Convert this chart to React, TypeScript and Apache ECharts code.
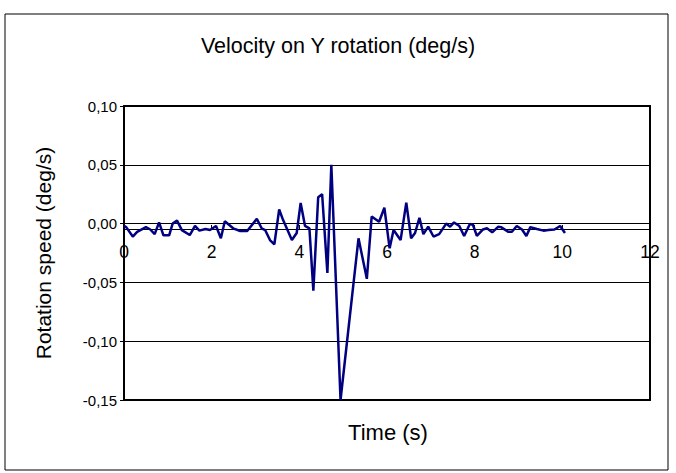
import React, { useEffect, useRef } from "react";
import * as echarts from "echarts";

const TITLE = "Velocity on Y rotation (deg/s)";
const X_NAME = "Time (s)";
const Y_NAME = "Rotation speed (deg/s)";

const times = [
  0.0, 0.05, 0.2, 0.3, 0.5, 0.6, 0.7, 0.8, 0.9, 1.03, 1.11, 1.21, 1.32, 1.5, 1.62, 1.72, 1.86, 1.96,
  2.1, 2.21, 2.3, 2.49, 2.65, 2.81, 3.03, 3.14, 3.22, 3.33, 3.43, 3.54, 3.63, 3.83, 3.94, 4.03,
  4.13, 4.23, 4.32, 4.43, 4.52, 4.64, 4.73, 4.94, 5.35, 5.54, 5.65, 5.82, 5.94, 6.06, 6.15, 6.31,
  6.44, 6.55, 6.64, 6.74, 6.83, 6.94, 7.06, 7.19, 7.35, 7.44, 7.53, 7.65, 7.76, 7.89, 7.96, 8.05,
  8.19, 8.28, 8.4, 8.54, 8.6, 8.77, 8.85, 8.96, 9.08, 9.18, 9.27, 9.42, 9.57, 9.68, 9.82, 9.95, 10.06,
];

const speeds = [
  -0.002, -0.003, -0.011, -0.007, -0.003, -0.005, -0.009, 0.001, -0.01, -0.01, 0.0, 0.0025, -0.0055,
  -0.0097, -0.002, -0.006, -0.0046, -0.0055, -0.002, -0.0125, 0.002, -0.004, -0.0063, -0.0063, 0.004,
  -0.004, -0.0055, -0.014, -0.0176, 0.012, 0.003, -0.014, -0.008, 0.0175, -0.002, -0.004, -0.057,
  0.0224, 0.025, -0.042, 0.05, -0.15, -0.0125, -0.047, 0.006, 0.0016, 0.0135, -0.021, -0.0055, -0.014,
  0.0178, -0.0125, -0.008, 0.005, -0.009, -0.0026, -0.011, -0.009, 0.0, -0.0026, 0.001, -0.002,
  -0.0105, -0.0003, -0.001, -0.0105, -0.005, -0.004, -0.0074, -0.0026, -0.003, -0.007, -0.007, -0.002,
  -0.005, -0.0105, -0.003, -0.0046, -0.006, -0.0055, -0.005, -0.002, -0.008,
];

const X_MIN = 0;
const X_MAX = 12;
const X_STEP = 2;
const Y_MIN = -0.15;
const Y_MAX = 0.1;
const Y_STEP = 0.05;

export default function App() {
  const ref = useRef<HTMLDivElement>(null);
  useEffect(() => {
    if (!ref.current) return;
    const chart = echarts.init(ref.current, null, { renderer: "svg" });
    const font = "'Liberation Sans', Arial, sans-serif";
    const data = times.map((t, i) => [t, speeds[i]]);
    chart.setOption({
      animation: false,
      backgroundColor: "#fff",
      textStyle: { fontFamily: font },
      title: {
        text: TITLE,
        left: "center",
        top: 30,
        textStyle: { fontFamily: font, fontSize: 21.5, fontWeight: "normal", color: "#000" },
      },
      graphic: [
        {
          type: "rect",
          shape: { x: 5, y: 14, width: 663, height: 456 },
          style: { fill: "none", stroke: "#000", lineWidth: 1 },
          silent: true,
        },
        {
          type: "text",
          x: 388,
          y: 432,
          style: {
            text: X_NAME,
            fontFamily: font,
            fontSize: 22,
            fill: "#000",
            align: "center",
            verticalAlign: "middle",
          },
        },
      ],
      grid: [
        {
          left: 124,
          top: 106,
          width: 526,
          height: 294,
          show: true,
          borderColor: "#000",
          borderWidth: 2,
          backgroundColor: "transparent",
        },
        {
          left: 124,
          top: 106,
          width: 526,
          height: 123,
          show: false,
        },
      ],
      xAxis: [
        {
          type: "value",
          gridIndex: 0,
          min: X_MIN,
          max: X_MAX,
          interval: X_STEP,
          axisLine: { show: false },
          axisTick: { show: false },
          axisLabel: { show: false },
          splitLine: { show: false },
        },
        {
          type: "value",
          gridIndex: 1,
          min: X_MIN,
          max: X_MAX,
          interval: X_STEP,
          position: "bottom",
          axisLine: { show: true, onZero: false, lineStyle: { color: "#000", width: 1 } },
          axisTick: { show: true, inside: true, length: 4, lineStyle: { color: "#000" } },
          axisLabel: { fontFamily: font, fontSize: 17.5, color: "#000", margin: 14 },
          splitLine: { show: false },
        },
      ],
      yAxis: [
        {
          type: "value",
          gridIndex: 0,
          min: Y_MIN,
          max: Y_MAX,
          interval: Y_STEP,
          name: Y_NAME,
          nameLocation: "middle",
          nameGap: 70,
          nameTextStyle: { fontFamily: font, fontSize: 21, color: "#000" },
          axisLine: { show: true, onZero: false, lineStyle: { color: "#000", width: 2 } },
          axisTick: { show: true, length: 4, lineStyle: { color: "#000" } },
          axisLabel: {
            fontFamily: font,
            fontSize: 15,
            color: "#000",
            margin: 7,
            formatter: (v: number) => v.toFixed(2).replace(".", ","),
          },
          splitLine: { show: true, lineStyle: { color: "#000", width: 1 } },
        },
        {
          type: "value",
          gridIndex: 1,
          min: 0,
          max: 1,
          show: false,
        },
      ],
      series: [
        {
          type: "line",
          data,
          xAxisIndex: 0,
          yAxisIndex: 0,
          symbol: "none",
          lineStyle: { color: "#000080", width: 2.5 },
          clip: true,
        },
      ],
    });
    return () => chart.dispose();
  }, []);
  return (
    <div
      ref={ref}
      style={{ position: "fixed", left: 0, top: 0, width: 676, height: 473 }}
    />
  );
}
